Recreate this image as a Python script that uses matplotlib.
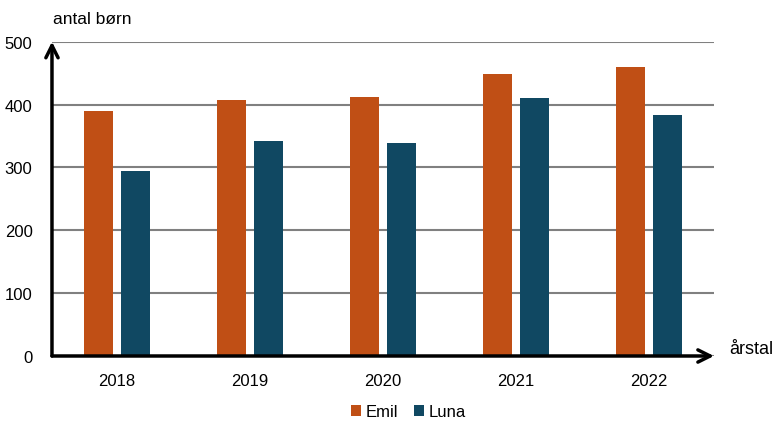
import numpy as np
import matplotlib
matplotlib.use('Agg')
import matplotlib.pyplot as plt

# Data:
years = ['2018', '2019', '2020', '2021', '2022']
emil = [390, 407, 412, 448, 459]
luna = [294, 342, 339, 411, 384]
y_ticks = [0, 100, 200, 300, 400, 500]

# Colors:
Color_emil = '#C04F15'
Color_luna = '#104862'
Color_grid = '#808080'

plt.rcParams['font.family'] = ['Liberation Sans', 'DejaVu Sans']

fig = plt.figure(figsize=(7.84, 4.31), dpi=100)
ax = fig.add_axes([0.0663, 0.1717, 0.8444, 0.7293])

x = np.arange(len(years))
w = 0.22
ax.bar(x - 0.14, emil, width=w, color=Color_emil, label='Emil', zorder=3)
ax.bar(x + 0.14, luna, width=w, color=Color_luna, label='Luna', zorder=3)

ax.set_xlim(-0.49, 4.49)
ax.set_ylim(0, 500)
ax.set_yticks(y_ticks)
ax.set_xticks(x)
ax.set_xticklabels(years)
ax.tick_params(axis='y', length=0, pad=14, labelsize=12)
ax.tick_params(axis='x', length=0, pad=12, labelsize=12)
for s in ax.spines.values():
    s.set_visible(False)
ax.yaxis.grid(True, color=Color_grid, lw=1.5, zorder=0)
ax.set_axisbelow(True)

# Axis arrows:
ax.annotate('', xy=(1.0, 0), xytext=(0, 0), xycoords='axes fraction',
            arrowprops=dict(arrowstyle='->', lw=2.5, color='black', mutation_scale=22,
                            shrinkA=0, shrinkB=0), zorder=5)
ax.annotate('', xy=(0, 1.0), xytext=(0, 0), xycoords='axes fraction',
            arrowprops=dict(arrowstyle='->', lw=2.5, color='black', mutation_scale=22,
                            shrinkA=0, shrinkB=0), zorder=5)

fig.text(0.068, 0.955, 'antal børn', fontsize=12.5, va='center', ha='left')
fig.text(0.930, 0.188, 'årstal', fontsize=13, va='center', ha='left')

fig.legend(loc='center', bbox_to_anchor=(0.521, 0.042), ncol=2, frameon=False,
           fontsize=12, handlelength=0.6, handleheight=0.6, handletextpad=0.3,
           columnspacing=0.9)

fig.savefig('out.png', dpi=100)
